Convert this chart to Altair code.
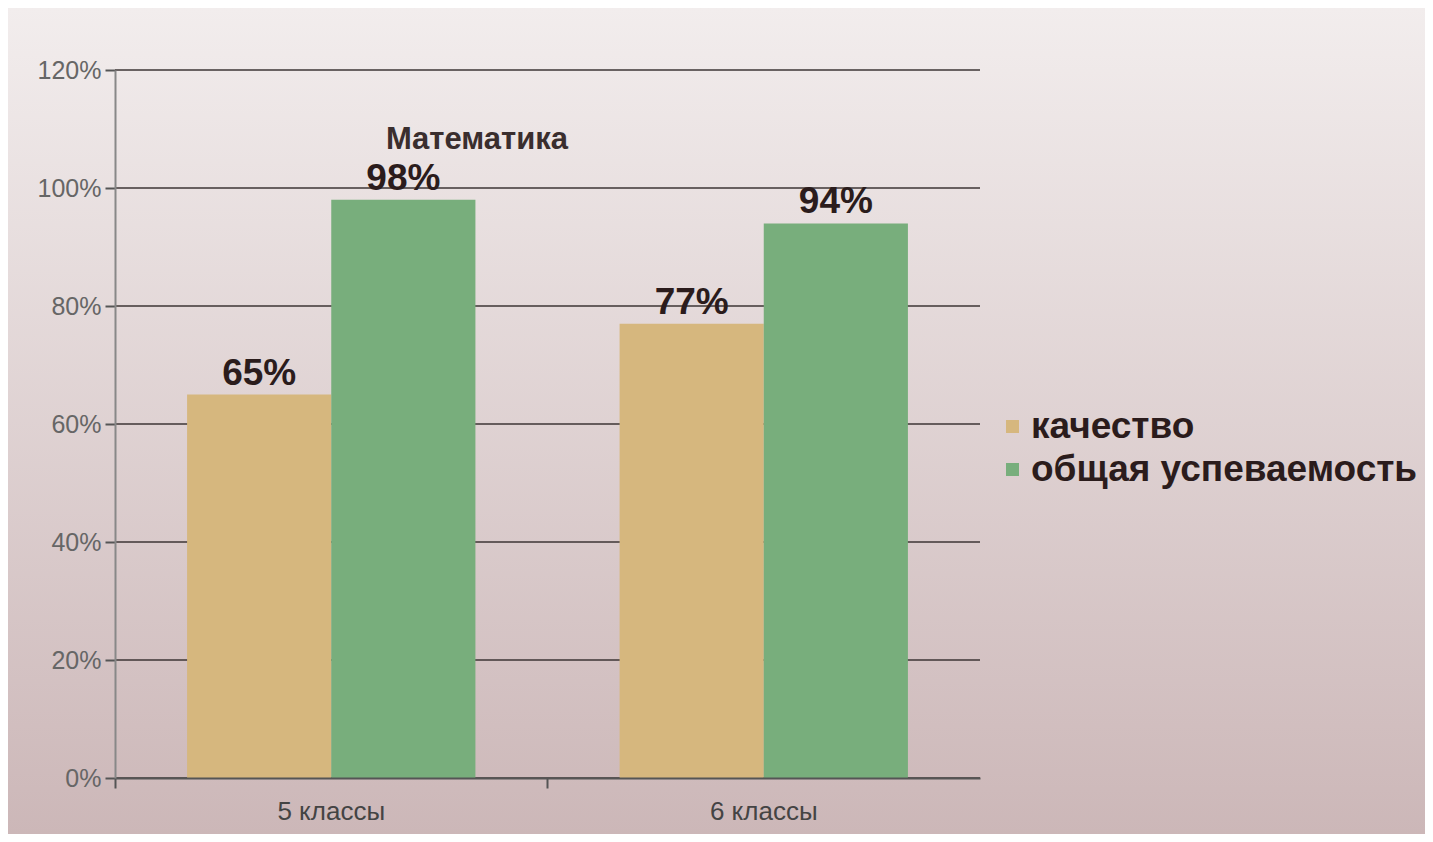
import altair as alt
import pandas as pd

categories = ["5 классы", "6 классы"]
series = ["качество", "общая успеваемость"]
quality = [0.65, 0.77]
overall = [0.98, 0.94]
y_ticks = [0, 0.2, 0.4, 0.6, 0.8, 1.0, 1.2]
colors = ["#d6b77e", "#78ae7c"]
title_text = "Математика"

rows = []
for c, q, o in zip(categories, quality, overall):
    rows.append({"class": c, "series": series[0], "value": q})
    rows.append({"class": c, "series": series[1], "value": o})
df = pd.DataFrame(rows)
grid_df = pd.DataFrame({"v": y_ticks})
title_df = pd.DataFrame({"t": [title_text]})

W, H = 865, 708
FONT = "Liberation Sans"

bg = alt.Chart(title_df).mark_rect(
    color=alt.Gradient(
        gradient="linear",
        stops=[alt.GradientStop(color="#f2eded", offset=0),
               alt.GradientStop(color="#ccb7b8", offset=1)],
        x1=0, x2=0, y1=0, y2=1,
    )
).encode(x=alt.value(-107), x2=alt.value(1310), y=alt.value(-62), y2=alt.value(764))

grid = alt.Chart(grid_df).mark_rule(color="#3d3535", strokeWidth=1.6).encode(
    y=alt.Y("v:Q", scale=alt.Scale(domain=[0, 1.2])),
    x=alt.value(0), x2=alt.value(W),
)

base = alt.Chart(df).encode(
    x=alt.X("class:N", sort=categories, title=None,
            scale=alt.Scale(paddingInner=0, paddingOuter=0),
            axis=alt.Axis(labelAngle=0, labelFont=FONT, labelFontSize=26, labelColor="#444",
                          labelPadding=10, domainColor="#555", domainWidth=2, tickColor="#555",
                          tickWidth=2, tickSize=10, bandPosition=0, zindex=1)),
    xOffset=alt.XOffset("series:N", sort=series,
                        scale=alt.Scale(paddingInner=0, paddingOuter=0.5)),
    y=alt.Y("value:Q", title=None,
            scale=alt.Scale(domain=[0, 1.2]),
            axis=alt.Axis(values=y_ticks, format=".0%", grid=False, labelFont=FONT,
                          labelFontSize=25, labelColor="#666", domainColor="#888",
                          domainWidth=2, tickColor="#555", tickWidth=2, tickSize=10,
                          labelPadding=4, zindex=1)),
)

bars = base.mark_bar().encode(
    color=alt.Color("series:N", sort=series,
                    scale=alt.Scale(domain=series, range=colors),
                    legend=alt.Legend(title=None, orient="none", legendX=879, legendY=338,
                                      symbolType="square", symbolSize=169, symbolStrokeWidth=0,
                                      labelFont=FONT, labelFontSize=37, labelFontWeight="bold",
                                      labelColor="#2b1c1c", rowPadding=5, labelOffset=0,
                                      labelLimit=700)),
)

labels = base.mark_text(baseline="bottom", dy=-2, font=FONT, fontSize=37,
                        fontWeight="bold", color="#2b1c1c").encode(
    text=alt.Text("value:Q", format=".0%"),
)

title = alt.Chart(title_df).mark_text(font=FONT, fontSize=31, fontWeight="bold",
                                      color="#3a2e2e").encode(
    text="t:N", x=alt.value(362), y=alt.value(70),
)

chart = alt.layer(bg, grid, bars, labels, title).properties(
    width=W, height=H, padding=0
).configure_view(stroke=None)

chart.save("out.html", embed_options={"renderer": "svg", "actions": False})
